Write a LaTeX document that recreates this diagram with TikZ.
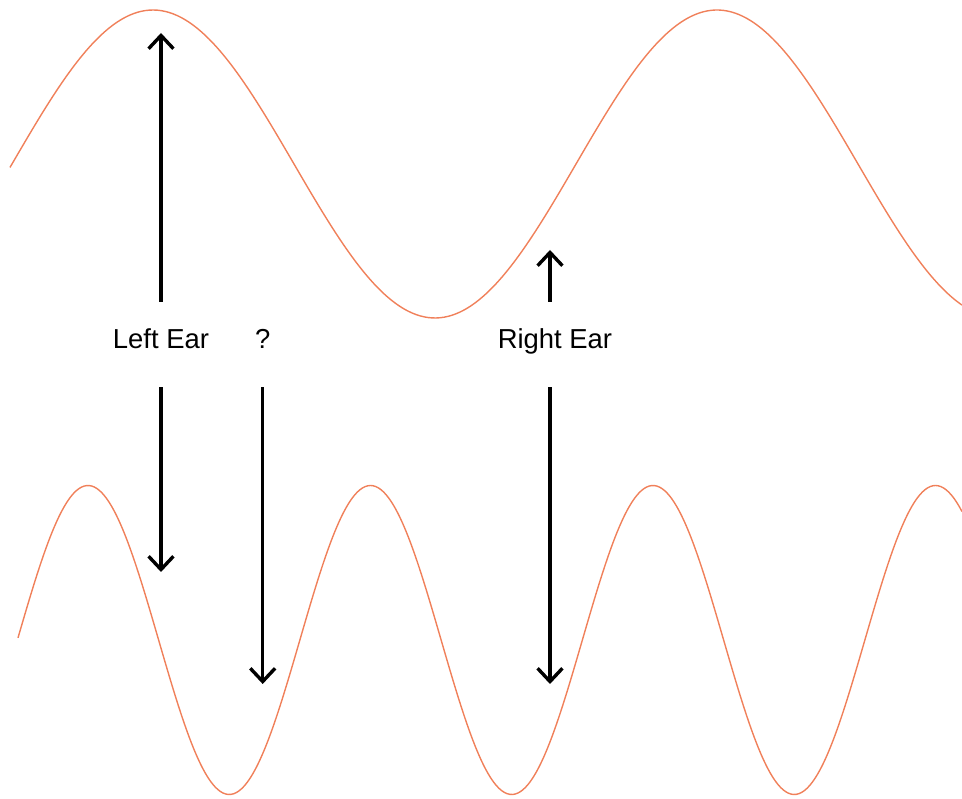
\documentclass[tikz,border=0pt]{standalone}
\usepackage{fontspec}
\setmainfont{Liberation Sans}
\usepackage{tikz}
\usetikzlibrary{
	arrows.meta,
	calc,
	positioning
}
\definecolor{WaveOrange}{RGB}{240,128,90}
\tikzset{
	earlabel/.style={anchor=base, font=\fontsize{19.5}{23}\selectfont, text height=4.75mm, text depth=2.75mm, inner xsep=0pt, inner ysep=6.9mm},
	earpath/.style={line width=0.85mm, -{Straight Barb[length=3.3mm,width=6.2mm,line width=0.85mm]}},
	wave/.style={WaveOrange, line width=0.35mm, smooth}
}

\begin{document}
\begin{tikzpicture}[x=0.025cm, y=-0.025cm]
			\useasboundingbox (0,0) rectangle (962,799);
			% waves
			\draw[wave] plot[domain=10:962, samples=240] (\x,{164-154*cos(0.638298*(\x-153))});
			\draw[wave] plot[domain=18:962, samples=360] (\x,{640-154.5*cos(1.274336*(\x-88))});
			% labels
			\node[earlabel] (leftear) at (161,348.5) {Left Ear};
			\node[earlabel] (question) at (262.7,348.5) {?};
			\node[earlabel] (rightear) at (555,348.5) {Right Ear};
			\coordinate (leftup) at (161,33);
			\coordinate (leftdown) at (161,572);
			\coordinate (questiondown) at (262.7,684);
			\coordinate (rightup) at (550,250);
			\coordinate (rightdown) at (550,684);
			\draw[earpath] (leftear.north) -- (leftup);
			\draw[earpath] (leftear.south) -- (leftdown);
			\draw[earpath] (question.south) -- (questiondown);
			\draw[earpath] (rightup |- rightear.north) -- (rightup);
			\draw[earpath] (rightdown |- rightear.south) -- (rightdown);
		\end{tikzpicture}
\end{document}
